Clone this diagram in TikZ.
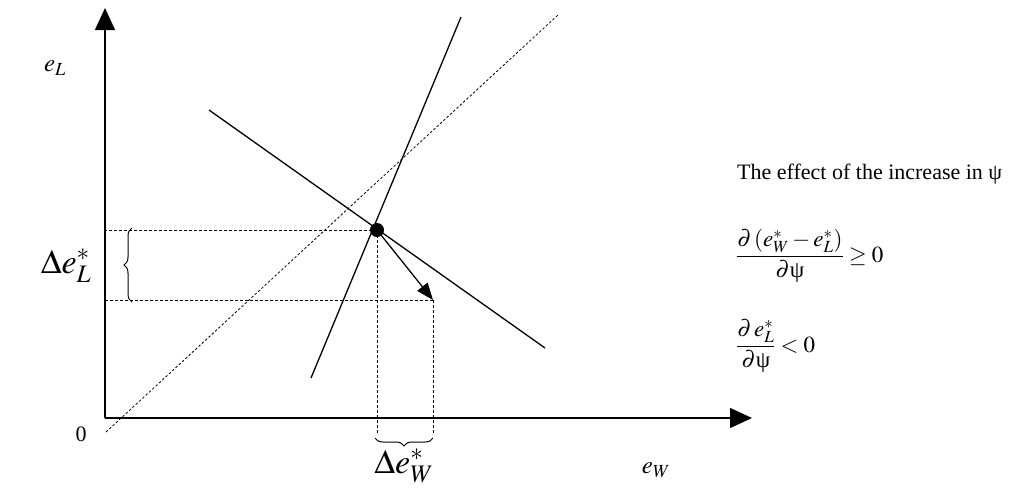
\documentclass[tikz,border=0pt]{standalone}
\usepackage{amsmath}
\usepackage{mathptmx}
\usepackage{fontspec}
\setmainfont{Liberation Serif}
\newfontfamily\grk{Liberation Serif}
\usetikzlibrary{arrows.meta,decorations.pathreplacing}
\tikzset{
  axis/.style={line width=1.4pt,-{Triangle[length=22pt,width=20pt]}},
  curve/.style={line width=1.3pt},
  guide/.style={line width=0.7pt,dash pattern=on 3pt off 2pt},
  diag/.style={line width=0.8pt,dash pattern=on 2.5pt off 2pt},
  bracestyle/.style={line width=1pt,decorate,decoration={brace,amplitude=8pt}},
  txt/.style={font=\fontsize{22}{26}\selectfont,inner sep=0pt},
  lbl/.style={font=\fontsize{25}{30}\selectfont,inner sep=0pt},
  frm/.style={font=\fontsize{23}{28}\selectfont,inner sep=0pt},
  biglbl/.style={font=\fontsize{34}{40}\selectfont,inner sep=0pt},
}
\newcommand{\psiup}{\mathord{\hbox{\grk ψ}}}
\begin{document}
\begin{tikzpicture}[x=1pt,y=-1pt]
\useasboundingbox (0,0) rectangle (1015,490);
% axes
\coordinate (O) at (105,418);
\coordinate (ytop) at (105,8);
\coordinate (xend) at (752,418);
\draw[axis] (O) -- (ytop);
\draw[axis] (O) -- (xend);
% 45 degree dotted line
\coordinate (d1) at (106,432);
\coordinate (d2) at (558,15);
\draw[diag] (d1) -- (d2);
% curves
\coordinate (s1) at (311,378);
\coordinate (s2) at (461,17);
\coordinate (E) at (377,230);
\draw[curve] (s1) -- (s2);
\coordinate (n1) at (209,110);
\coordinate (n2) at (545,348);
\draw[curve] (n1) -- (n2);
% equilibrium and shift
\coordinate (E2) at (433,300);
\draw[guide] (E) -- (E -| O);
\draw[guide] (E2) -- (E2 -| O);
\coordinate (Eb) at (377,434);
\coordinate (E2b) at (433,434);
\draw[guide] (E) -- (Eb);
\draw[guide] (E2) -- (E2b);
\draw[line width=1.3pt,-{Triangle[length=17pt,width=13pt]}] (E) -- (E2);
\node[circle,fill=black,inner sep=0pt,minimum size=14pt] (dot) at (E) {};
% braces
\coordinate (bl1) at (132,302);
\coordinate (bl2) at (132,228);
\draw[bracestyle] (bl1) -- (bl2);
\coordinate (bb1) at (433,438);
\coordinate (bb2) at (375,438);
\draw[bracestyle] (bb1) -- (bb2);
% labels
\node[biglbl] (dL) at (66,266) {$\Delta e_L^{*}$};
\node[biglbl] (dW) at (404,466) {$\Delta e_W^{*}$};
\node[lbl] (eL) at (55,68) {$e_L$};
\node[lbl] (eW) at (656,470) {$e_W$};
\node[txt] (zero) at (81,434) {0};
\node[txt,anchor=west] (title) at (737,174) {The effect of the increase in ψ};
\node[frm,anchor=west] (f1) at (736,256) {$\dfrac{\partial\left(e_W^{*}-e_L^{*}\right)}{\partial\psiup}\geq 0$};
\node[frm,anchor=west] (f2) at (736,346) {$\dfrac{\partial\, e_L^{*}}{\partial\psiup}<0$};
\end{tikzpicture}
\end{document}
